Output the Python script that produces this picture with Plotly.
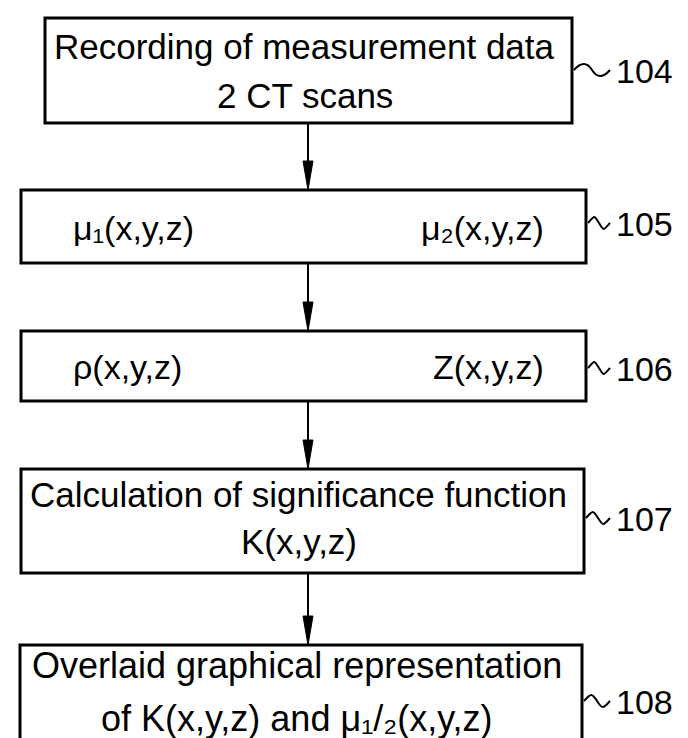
import plotly.graph_objects as go

# ---- content ----
step_ids = ["104", "105", "106", "107", "108"]
center_lines = [
    ["Recording of measurement data", "2 CT scans"],
    None,
    None,
    ["Calculation of significance function", "K(x,y,z)"],
    ["Overlaid graphical representation", "of K(x,y,z) and \u03bc\u2081/\u2082(x,y,z)"],
]
left_texts = [None, "\u03bc\u2081(x,y,z)", "\u03c1(x,y,z)", None, None]
right_texts = [None, "\u03bc\u2082(x,y,z)", "Z(x,y,z)", None, None]

# ---- layout geometry (pixels, y downward) ----
W, H = 688, 738
boxes = [  # x0, x1, y0, y1
    (37, 564, 10, 115),
    (13, 578, 182, 255),
    (13, 578, 323, 393),
    (13, 576, 461, 565),
    (12, 574, 637, 760),
]
line_y = [[36, 85], None, None, [484, 531], [655, 708]]
line_fs = [35, None, None, 35, 36]
label_y = [62, 215, 360, 510, 693]
arrow_x = 300
FONT = "Liberation Sans, Arial, Helvetica, sans-serif"

fig = go.Figure()
shapes = []
annotations = []

for i, (x0, x1, y0, y1) in enumerate(boxes):
    shapes.append(dict(type="rect", x0=x0, x1=x1, y0=y0, y1=y1,
                       line=dict(color="black", width=3), fillcolor="white", layer="below"))
    lines = center_lines[i]
    if lines:
        for ln, yy in zip(lines, line_y[i]):
            annotations.append(dict(x=(x0 + x1) / 2 - 4, y=yy + 2, text=ln, showarrow=False,
                                    xanchor="center", yanchor="middle",
                                    font=dict(family=FONT, size=line_fs[i], color="black")))
    cy = (y0 + y1) / 2
    if left_texts[i]:
        annotations.append(dict(x=x0 + 50, y=cy + 1, text=left_texts[i], showarrow=False,
                                xanchor="left", yanchor="middle",
                                font=dict(family=FONT, size=34, color="black")))
    if right_texts[i]:
        annotations.append(dict(x=x1 - 40, y=cy + 1, text=right_texts[i], showarrow=False,
                                xanchor="right", yanchor="middle",
                                font=dict(family=FONT, size=34, color="black")))
    # leader tilde + reference number
    ly = label_y[i]
    tx0 = x1 + 2
    tx1 = 602
    mid = (tx0 + tx1) / 2
    path = (f"M {tx0} {ly} C {tx0+7} {ly-8}, {mid-5} {ly-8}, {mid} {ly} "
            f"S {tx1-7} {ly+8}, {tx1} {ly}")
    shapes.append(dict(type="path", path=path, line=dict(color="black", width=2)))
    annotations.append(dict(x=606, y=ly + 1, text=step_ids[i], showarrow=False,
                            xanchor="left", yanchor="middle",
                            font=dict(family=FONT, size=34, color="black")))

# arrows between boxes
for a, b in zip(boxes[:-1], boxes[1:]):
    ya, yb = a[3], b[2]
    head = 29
    shapes.append(dict(type="line", x0=arrow_x, x1=arrow_x, y0=ya, y1=yb - head + 2,
                       line=dict(color="black", width=2)))
    shapes.append(dict(type="path",
                       path=f"M {arrow_x-5} {yb-head} L {arrow_x+5} {yb-head} L {arrow_x} {yb} Z",
                       fillcolor="black", line=dict(color="black", width=1)))

fig.update_layout(
    width=W, height=H, margin=dict(l=0, r=0, t=0, b=0),
    paper_bgcolor="white", plot_bgcolor="white",
    xaxis=dict(range=[0, W], visible=False, fixedrange=True),
    yaxis=dict(range=[H, 0], visible=False, fixedrange=True),
    shapes=shapes, annotations=annotations, showlegend=False,
)
fig.write_html("out.html")
